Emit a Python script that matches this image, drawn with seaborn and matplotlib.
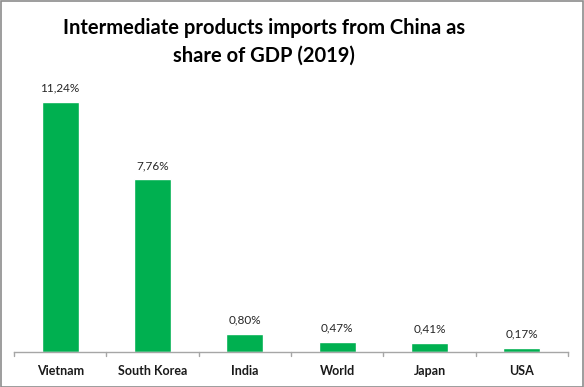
import matplotlib
matplotlib.use("Agg")
import matplotlib.pyplot as plt
import seaborn as sns
import pandas as pd

countries = ["Vietnam", "South Korea", "India", "World", "Japan", "USA"]
shares = [11.24, 7.76, 0.80, 0.47, 0.41, 0.17]
value_labels = ["11,24%", "7,76%", "0,80%", "0,47%", "0,41%", "0,17%"]
title = "Intermediate products imports from China as\nshare of GDP (2019)"

sns.set_theme(style="white")
plt.rcParams['font.family'] = ['Lato', 'DejaVu Sans']

df = pd.DataFrame({"country": countries, "share": shares})

fig = plt.figure(figsize=(5.84, 3.87), dpi=100)
ax = fig.add_axes([0.024, 0.0904, 0.9486, 0.7184])
sns.barplot(data=df, x="country", y="share", color="#00B050", saturation=1,
            width=0.40, ax=ax)
ax.set_xlim(-0.5, len(countries) - 0.5)
ax.set_ylim(0, 12.5)
ax.set_xlabel("")
ax.set_ylabel("")
ax.set_yticks([])
for s in ["top", "right", "left"]:
    ax.spines[s].set_visible(False)
ax.spines["bottom"].set_color("#a6a6a6")
ax.spines["bottom"].set_linewidth(1.0)

ax.set_xticks(range(len(countries)))
ax.set_xticklabels(countries, fontsize=9, fontweight="bold", color="#1a1a1a")
ax.tick_params(axis="x", length=0, pad=9)
for b in [i - 0.5 for i in range(len(countries) + 1)]:
    ax.plot([b, b], [0, -0.2], color="#a6a6a6", lw=1.0, clip_on=False)

for i, (v, lab) in enumerate(zip(shares, value_labels)):
    ax.annotate(lab, (i, v), xytext=(0, 6), textcoords="offset points",
                ha="center", va="bottom", fontsize=8.5, color="#262626")

fig.text(0.452, 0.892, title, ha="center", va="center", fontsize=14.5,
         fontweight="bold", color="black", linespacing=1.5)

border = plt.Rectangle((0.001, 0.001), 0.997, 0.996, transform=fig.transFigure,
                       fill=False, edgecolor="#8c8c8c", lw=1.2)
fig.patches.append(border)

fig.savefig("out.png", dpi=100)
